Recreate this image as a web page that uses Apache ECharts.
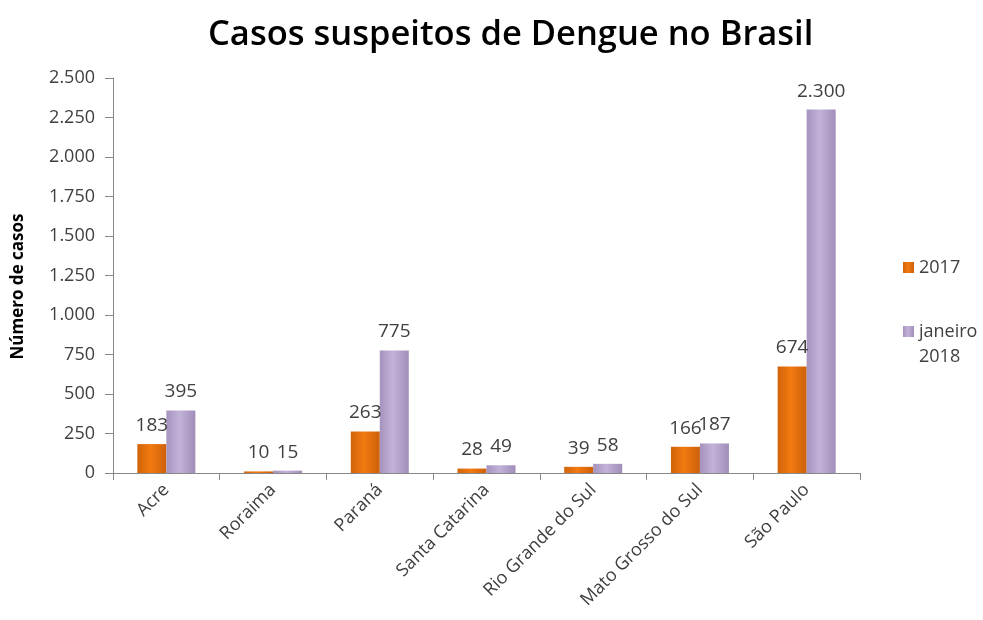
<!DOCTYPE html>
<html>
<head>
<meta charset="utf-8">
<script src="https://cdn.jsdelivr.net/npm/echarts@6/dist/echarts.min.js"></script>
<style>
html,body{margin:0;padding:0;background:#fff;}
#chart{width:983px;height:620px;}
</style>
</head>
<body>
<div id="chart"></div>
<script>
// estados
var estados = ['Acre','Roraima','Paraná','Santa Catarina','Rio Grande do Sul','Mato Grosso do Sul','São Paulo'];
// casos por serie
var casos2017 = [183,10,263,28,39,166,674];
var casosJan2018 = [395,15,775,49,58,187,2300];
var nomesSeries = ['2017','janeiro\n2018'];

//formato com ponto de milhar
function fmt(v){
    return String(v).replace(/\B(?=(\d{3})+(?!\d))/g,'.');
}
function grad(c1,c2,c3){
    return new echarts.graphic.LinearGradient(0,0,1,0,[
        {offset:0,color:c1},{offset:0.45,color:c2},{offset:1,color:c3}
    ]);
}
var chart = echarts.init(document.getElementById('chart'));
var txt = '#404040';
var lbl = {show:true,position:'top',distance:9,color:txt,fontSize:19,fontFamily:'Open Sans',formatter:function(p){return fmt(p.value);}};
var option = {
    animation:false,
    title:{
        text:'Casos suspeitos de Dengue no Brasil',
        left:203,
        top:13,
        textStyle:{fontFamily:'Open Sans',fontWeight:600,fontSize:34.5,color:'#000'}
    },
    legend:{
        orient:'vertical',
        left:898,
        top:250,
        itemWidth:11,
        itemHeight:11,
        itemGap:14,
        icon:'rect',
        textStyle:{fontFamily:'Open Sans',fontSize:18,color:txt,lineHeight:25},
        //icone alinhado com a primeira linha
        formatter:function(name){
            return name.indexOf('\n')>-1 ? '\n'+name : name;
        },
        data:nomesSeries
    },
    grid:{left:113,right:123,top:78,bottom:147},
    xAxis:{
        type:'category',
        data:estados,
        axisLine:{lineStyle:{color:'#888'}},
        axisTick:{show:true,length:7,lineStyle:{color:'#888'}},
        axisLabel:{rotate:45,color:txt,fontFamily:'Open Sans',fontSize:18,margin:14,interval:0}
    },
    yAxis:{
        type:'value',
        min:0,max:2500,interval:250,
        name:'Número de casos',
        nameLocation:'middle',
        nameRotate:90,
        nameGap:86,
        nameTextStyle:{fontFamily:'Open Sans',fontWeight:'bold',fontSize:17,color:'#000',padding:[0,0,0,-22]},
        splitLine:{show:false},
        axisLine:{show:true,lineStyle:{color:'#888'}},
        axisTick:{show:true,length:8,lineStyle:{color:'#888'}},
        axisLabel:{color:txt,fontFamily:'Open Sans',fontSize:18,margin:18,formatter:fmt}
    },
    series:[
        {
            name:nomesSeries[0],type:'bar',data:casos2017,barWidth:29,barGap:'0%',
            itemStyle:{color:grad('#d0630a','#f27a10','#cc600a')},
            label:lbl
        },
        {
            name:nomesSeries[1],type:'bar',data:casosJan2018,barWidth:29,
            itemStyle:{color:grad('#a593bd','#c2b2d8','#a08eb8')},
            label:lbl
        }
    ]
};
chart.setOption(option);
</script>
</body>
</html>
